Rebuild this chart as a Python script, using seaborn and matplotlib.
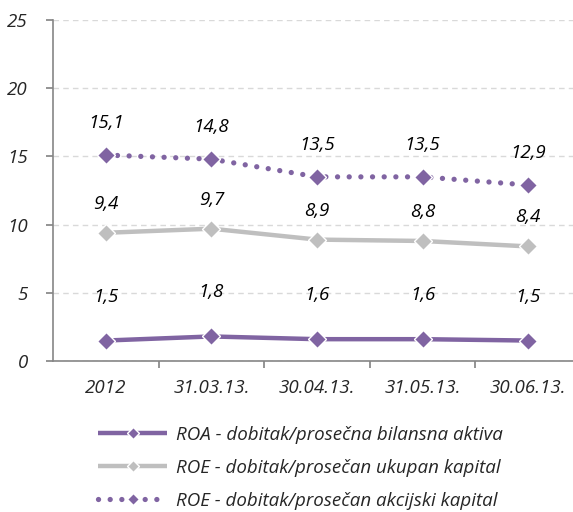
import pandas as pd
import seaborn as sns
import matplotlib.pyplot as plt

sns.set_theme(style='white')
plt.rcParams['font.family'] = ['Open Sans', 'DejaVu Sans']

periods = ['2012', '31.03.13.', '30.04.13.', '31.05.13.', '30.06.13.']
roa = [1.5, 1.8, 1.6, 1.6, 1.5]
roe_total = [9.4, 9.7, 8.9, 8.8, 8.4]
roe_share = [15.1, 14.8, 13.5, 13.5, 12.9]

names = ['ROA - dobitak/prosečna bilansna aktiva',
         'ROE - dobitak/prosečan ukupan kapital',
         'ROE - dobitak/prosečan akcijski kapital']

purple = '#8064A2'
grey = '#BFBFBF'
fs = 13.5

fig = plt.figure(figsize=(5.73, 5.12), dpi=100)
ax = fig.add_axes([53 / 573, 151 / 512, 528 / 573, 341 / 512])

x = list(range(len(periods)))
series = [
    (roa, names[0], purple, '-', 3.2, 44),
    (roe_total, names[1], grey, '-', 3.2, 29),
    (roe_share, names[2], purple, (0, (0.01, 2.2)), 3.8, 32),
]

for vals, name, col, ls, lw, off in series:
    df = pd.DataFrame({'x': x, 'y': vals})
    sns.lineplot(data=df, x='x', y='y', ax=ax, color=col, lw=lw,
                 linestyle=ls, marker='D', markersize=9,
                 markerfacecolor=col, markeredgecolor='white',
                 markeredgewidth=1, label=name,
                 dash_capstyle='round', solid_capstyle='butt')
    for xi, v in zip(x, vals):
        ax.annotate(f'{v:.1f}'.replace('.', ','), (xi, v),
                    xytext=(0, off), textcoords='offset pixels',
                    ha='center', va='center', fontsize=fs,
                    style='italic', color='black')

ax.set_ylim(0, 25)
yt = [0, 5, 10, 15, 20, 25]
ax.set_yticks(yt)
ax.set_yticklabels([str(v) for v in yt])
ax.set_xlim(-0.5, 4.5)
ax.set_xticks([i + 0.5 for i in range(4)])
ax.set_xticklabels([])
ax.set_xticks(x, minor=True)
ax.set_xticklabels(periods, minor=True)
ax.tick_params(axis='x', which='major', length=5, color='#868686',
               direction='out', bottom=True)
ax.tick_params(axis='x', which='minor', length=0, pad=13)
ax.tick_params(axis='y', length=5, color='#868686', direction='out',
               left=True, pad=13)
for lab in ax.get_yticklabels() + ax.get_xticklabels(minor=True):
    lab.set_fontstyle('italic')
    lab.set_fontsize(fs)
ax.set_xlabel('')
ax.set_ylabel('')
ax.yaxis.grid(True, color='#D9D9D9', linestyle=(0, (4, 3)), lw=1)
ax.set_axisbelow(True)
for s in ['top', 'right']:
    ax.spines[s].set_visible(False)
for s in ['left', 'bottom']:
    ax.spines[s].set_color('#868686')
    ax.spines[s].set_linewidth(1.2)

ax.legend_.remove()
handles, labels = ax.get_legend_handles_labels()
leg = fig.legend(handles, labels, loc='upper left',
                 bbox_to_anchor=(98 / 573, 1 - 426 / 512),
                 frameon=False, prop={'size': fs, 'style': 'italic'},
                 handlelength=3.7, handletextpad=0.45, labelspacing=0.8,
                 borderpad=0, borderaxespad=0)
for h in leg.legend_handles:
    h.set_markersize(6)

fig.savefig('out.png', dpi=100)
